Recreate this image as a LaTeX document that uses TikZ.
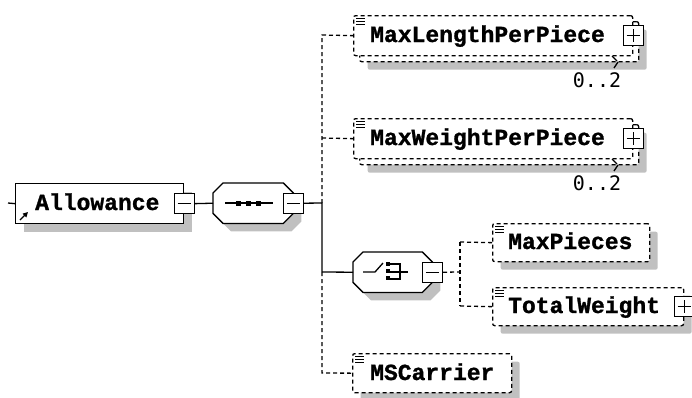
\documentclass[tikz,border=0pt]{standalone}
\usepackage{fontspec}
\usetikzlibrary{shadows,arrows.meta}
\newfontfamily\elfont[BoldFont={Liberation Mono Bold}, BoldFeatures={FakeBold=1.2}]{Liberation Mono}
\newfontfamily\occfont{DejaVu Sans Mono}
\definecolor{shadowgray}{HTML}{C0C0C0}
\tikzset{
  ln/.style={line width=1.3pt},
  dsh/.style={line width=1.3pt, dash pattern=on 4pt off 3pt},
  shd/.style={drop shadow={shadow xshift=8pt, shadow yshift=-8pt, fill=shadowgray, opacity=1}},
  solidbox/.style={draw, fill=white, line width=1.3pt, inner sep=0pt, anchor=north west},
  optbox/.style={draw, fill=white, line width=1.3pt, dash pattern=on 4pt off 3pt, rounded corners=2pt, inner sep=0pt, anchor=north west},
  pmbox/.style={draw, fill=white, line width=1.3pt, solid, minimum width=20pt, minimum height=20pt, inner sep=0pt},
  frame/.style={draw=none, inner sep=0pt, anchor=north west},
  elname/.style={font=\elfont\bfseries\fontsize{23}{23}\selectfont, anchor=base west, inner sep=0pt},
  occ/.style={font=\occfont\fontsize{20}{20}\selectfont, inner sep=0pt},
}
\newcommand\xsOct[1]{%
  \filldraw[ln, fill=white, shd] ([xshift=10pt]#1.north west) -- ([xshift=-10pt]#1.north east) -- ([yshift=-10pt]#1.north east) -- ([yshift=10pt]#1.south east) -- ([xshift=-10pt]#1.south east) -- ([xshift=10pt]#1.south west) -- ([yshift=10pt]#1.south west) -- ([yshift=-10pt]#1.north west) -- cycle;}
\newcommand\xsMinus[1]{\draw[ln] ([xshift=4pt]#1.west) -- ([xshift=-4pt]#1.east);}
\newcommand\xsPlus[1]{\draw[ln] ([xshift=4pt]#1.west) -- ([xshift=-4pt]#1.east); \draw[ln] ([yshift=-4pt]#1.north) -- ([yshift=4pt]#1.south);}
\newcommand\xsDoc[1]{\foreach \k in {3.5,6.5,9.5} {\draw[line width=0.9pt] ([xshift=3pt,yshift=-\k pt]#1.north west) -- ([xshift=12pt,yshift=-\k pt]#1.north west);}}
\begin{document}
\begin{tikzpicture}[x=1pt,y=-1pt]
\useasboundingbox (0,0) rectangle (692,397);
% ---------- connector end points
\coordinate (lead) at (8,203);
\coordinate (tk) at (322,203);
\coordinate (tkL) at (322,35);
\coordinate (tkW) at (322,138);
\coordinate (tkC) at (322,272);
\coordinate (tkM) at (322,373);
\coordinate (ck) at (460,272);
\coordinate (ckP) at (460,242);
\coordinate (ckT) at (460,306);
% ---------- Allowance
\node[solidbox, shd, minimum width=168pt, minimum height=40pt] (allow) at (15,183) {};
\draw[ln] (lead) -- (allow.west);
\node[elname] (allowT) at (35,210) {Allowance};
\draw[ln, -{Triangle[length=5pt,width=5pt]}] (20,220) -- (28,212);
\node[pmbox] (allowm) at (allow.east) {};
\xsMinus{allowm}
% ---------- sequence
\node[frame, minimum width=80pt, minimum height=40pt] (seq) at (213,183) {};
\xsOct{seq}
\draw[ln] (225,203) -- (273,203);
\foreach \xx in {238,248,258} {\fill (\xx-2.5,200.5) rectangle (\xx+2.5,205.5);}
\node[pmbox] (seqm) at (seq.east) {};
\xsMinus{seqm}
\draw[ln] (allowm.east) -- (seq.west);
\draw[ln] (seqm.east) -- (tk) -- (tkC);
% ---------- MaxLengthPerPiece
\node[optbox, shd, minimum width=279pt, minimum height=40pt] (mlpB) at (359,21) {};
\node[optbox, minimum width=279pt, minimum height=40pt] (mlp) at (353,15) {};
\xsDoc{mlp}
\node[elname] (mlpT) at (370,42) {MaxLengthPerPiece};
\node[pmbox] (mlpP) at (mlp.east) {};
\xsPlus{mlpP}
\draw[ln] (612,56) -- (617,61);
\draw[ln] (618,62) -- (614,68);
\node[occ] (mlpO) at (597,80) {0..2};
% ---------- MaxWeightPerPiece
\node[optbox, shd, minimum width=279pt, minimum height=40pt] (mwpB) at (359,124) {};
\node[optbox, minimum width=279pt, minimum height=40pt] (mwp) at (353,118) {};
\xsDoc{mwp}
\node[elname] (mwpT) at (370,145) {MaxWeightPerPiece};
\node[pmbox] (mwpP) at (mwp.east) {};
\xsPlus{mwpP}
\draw[ln] (612,159) -- (617,164);
\draw[ln] (618,165) -- (614,171);
\node[occ] (mwpO) at (597,183) {0..2};
\draw[dsh] (tk) -- (tkL) -- (mlp.west);
\draw[dsh] (tkW) -- (mwp.west);
% ---------- choice
\node[frame, minimum width=79pt, minimum height=40pt] (cho) at (353,252) {};
\xsOct{cho}
\draw[ln] (tkC) -- (cho.west);
\draw[ln] (363,272) -- (375,272) -- (383,263);
\foreach \yy in {264,271,278} {\fill (386,\yy-2) rectangle (390,\yy+2);}
\draw[ln] (390,264) -- (400,264) -- (400,279) -- (390,279);
\draw[ln] (390,272) -- (408,272);
\node[pmbox] (chom) at (cho.east) {};
\xsMinus{chom}
% ---------- MaxPieces
\node[optbox, shd, minimum width=157pt, minimum height=38pt] (mp) at (492,223) {};
\xsDoc{mp}
\node[elname] (mpT) at (508,249) {MaxPieces};
% ---------- TotalWeight
\node[optbox, shd, minimum width=191pt, minimum height=38pt] (tw) at (492,287) {};
\xsDoc{tw}
\node[elname] (twT) at (508,313) {TotalWeight};
\node[pmbox] (twP) at (tw.east) {};
\xsPlus{twP}
\draw[dsh] (chom.east) -- (ck);
\draw[dsh] (ckP) -- (ckT);
\draw[dsh] (ckP) -- (mp.west);
\draw[dsh] (ckT) -- (tw.west);
% ---------- MSCarrier
\node[optbox, shd, minimum width=159pt, minimum height=39pt] (msc) at (352,353) {};
\xsDoc{msc}
\node[elname] (mscT) at (370,380) {MSCarrier};
\draw[dsh] (tkC) -- (tkM) -- (msc.west);
\end{tikzpicture}
\end{document}
